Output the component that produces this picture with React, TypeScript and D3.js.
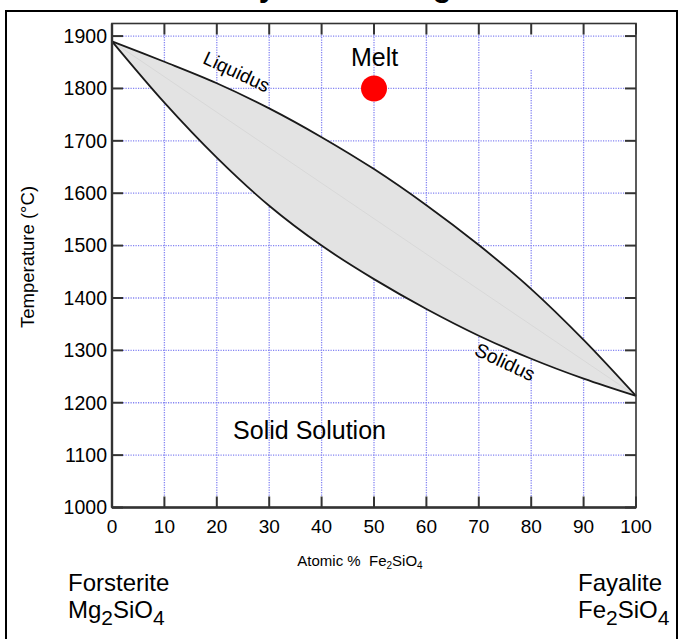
import React from 'react';
import * as d3 from 'd3';

// composition (atomic % Fe2SiO4) and temperatures
const composition = [0, 10, 20, 30, 40, 50, 60, 70, 80, 90, 100];
const liquidus = [1890, 1851, 1810, 1762, 1707, 1646, 1577, 1501, 1417, 1320, 1213];
const solidus = [1890, 1773, 1668, 1576, 1500, 1436, 1379, 1328, 1284, 1246, 1213];

const xTicks = [0, 10, 20, 30, 40, 50, 60, 70, 80, 90, 100];
const yTicks = [1000, 1100, 1200, 1300, 1400, 1500, 1600, 1700, 1800, 1900];

const meltPoint = { x: 50, t: 1800 };

const FONT = '"Liberation Sans", Arial, Helvetica, sans-serif';

const App = () => {
  const width = 680, height = 639;
  const margin = { top: 23.5, right: 44, bottom: 131.5, left: 112 };
  const tick = 11;

  const x = d3.scaleLinear().domain([0, 100]).range([margin.left, width - margin.right]);
  const y = d3.scaleLinear().domain([1000, 1924]).range([height - margin.bottom, margin.top]);

  const rows = composition.map((c, i) => ({ c, liq: liquidus[i], sol: solidus[i] }));

  const curve = d3.curveCatmullRom.alpha(0.5);
  const area = d3.area<any>()
    .x(d => x(d.c))
    .y0(d => y(d.sol))
    .y1(d => y(d.liq))
    .curve(curve);
  const liqLine = d3.line<any>().x(d => x(d.c)).y(d => y(d.liq)).curve(curve);
  const solLine = d3.line<any>().x(d => x(d.c)).y(d => y(d.sol)).curve(curve);

  const x0 = x(0), x1 = x(100), yb = y(1000), yt = y.range()[1];
  const gridColor = '#8484f2';
  const axisColor = '#333';

  return (
    <div style={{ position: 'fixed', left: 0, top: 0 }}>
      <svg width={width} height={height} style={{ display: 'block', background: '#fff' }} fontFamily={FONT}>
        {/* cut-off title */}
        <text x={344} y={-4} textAnchor="middle" fontSize={31} fontWeight="bold">Binary Phase Diagram</text>
        <rect x={6} y={11} width={671} height={700} fill="none" stroke="#000" strokeWidth={2} />

        {/* grid */}
        {yTicks.filter(t => t > 1000).map(t => (
          <line key={'gy' + t} x1={x0 + tick} x2={x1 - tick} y1={y(t)} y2={y(t)}
            stroke={gridColor} strokeWidth={1.3} strokeDasharray="1.2,1.3" />
        ))}
        {xTicks.filter(v => v > 0 && v < 100).map(v => (
          <line key={'gx' + v} x1={x(v)} x2={x(v)} y1={v === 80 ? y(1835) : yt + tick} y2={yb - tick}
            stroke={gridColor} strokeWidth={1.3} strokeDasharray="1.2,1.3" />
        ))}

        {/* two-phase field */}
        <path d={area(rows) || ''} fill="#e3e3e3" />
        <line x1={x(0)} y1={y(liquidus[0])} x2={x(100)} y2={y(liquidus[liquidus.length - 1])}
          stroke="#d8d8d8" strokeWidth={1} />
        <path d={liqLine(rows) || ''} fill="none" stroke="#1a1a1a" strokeWidth={1.8} />
        <path d={solLine(rows) || ''} fill="none" stroke="#1a1a1a" strokeWidth={1.8} />

        {/* frame and inward ticks */}
        <rect x={x0} y={yt} width={x1 - x0} height={yb - yt} fill="none" stroke={axisColor} strokeWidth={1.6} />
        <line x1={x0} x2={x0} y1={yt} y2={yb} stroke={axisColor} strokeWidth={2.4} />
        <line x1={x0} x2={x1} y1={yb} y2={yb} stroke={axisColor} strokeWidth={2.4} />
        {xTicks.map(v => (
          <g key={'tx' + v}>
            <line x1={x(v)} x2={x(v)} y1={yb} y2={yb - tick} stroke={axisColor} strokeWidth={2} />
            <line x1={x(v)} x2={x(v)} y1={yt} y2={yt + tick} stroke={axisColor} strokeWidth={2} />
            <text x={x(v)} y={yb + 25} textAnchor="middle" fontSize={19}>{v}</text>
          </g>
        ))}
        {yTicks.map(t => (
          <g key={'ty' + t}>
            <line x1={x0} x2={x0 + tick} y1={y(t)} y2={y(t)} stroke={axisColor} strokeWidth={2} />
            <line x1={x1} x2={x1 - tick} y1={y(t)} y2={y(t)} stroke={axisColor} strokeWidth={2} />
            <text x={x0 - 5} y={y(t)} dy="0.35em" textAnchor="end" fontSize={19.5}>{t}</text>
          </g>
        ))}

        {/* field labels */}
        <text transform={`translate(${x(23.8)},${y(1832)}) rotate(25)`} textAnchor="middle" dy="0.35em" fontSize={19}>Liquidus</text>
        <text transform={`translate(${x(75)},${y(1278)}) rotate(25)`} textAnchor="middle" dy="0.35em" fontSize={19.5}>Solidus</text>
        <text x={x(50.1)} y={y(1843)} textAnchor="middle" fontSize={25}>Melt</text>
        <text x={x(37.7)} y={y(1131)} textAnchor="middle" fontSize={25}>Solid Solution</text>
        <circle cx={x(meltPoint.x)} cy={y(meltPoint.t)} r={13} fill="#ff0000" />

        {/* axis titles */}
        <text transform={`translate(34,257) rotate(-90)`} textAnchor="middle" fontSize={18.5}>Temperature (°C)</text>
        <text x={360} y={566} textAnchor="middle" fontSize={15}>
          Atomic %{'\u00a0\u00a0'}Fe<tspan fontSize={10} dy={3}>2</tspan><tspan dy={-3}>SiO</tspan><tspan fontSize={10} dy={3}>4</tspan>
        </text>

        {/* end members */}
        <text x={68} y={591} fontSize={24}>Forsterite</text>
        <text x={68} y={618} fontSize={24}>
          Mg<tspan fontSize={21} dy={7}>2</tspan><tspan dy={-7}>SiO</tspan><tspan fontSize={21} dy={7}>4</tspan>
        </text>
        <text x={578} y={591} fontSize={24}>Fayalite</text>
        <text x={578} y={618} fontSize={24}>
          Fe<tspan fontSize={21} dy={7}>2</tspan><tspan dy={-7}>SiO</tspan><tspan fontSize={21} dy={7}>4</tspan>
        </text>
      </svg>
    </div>
  );
};

export default App;
